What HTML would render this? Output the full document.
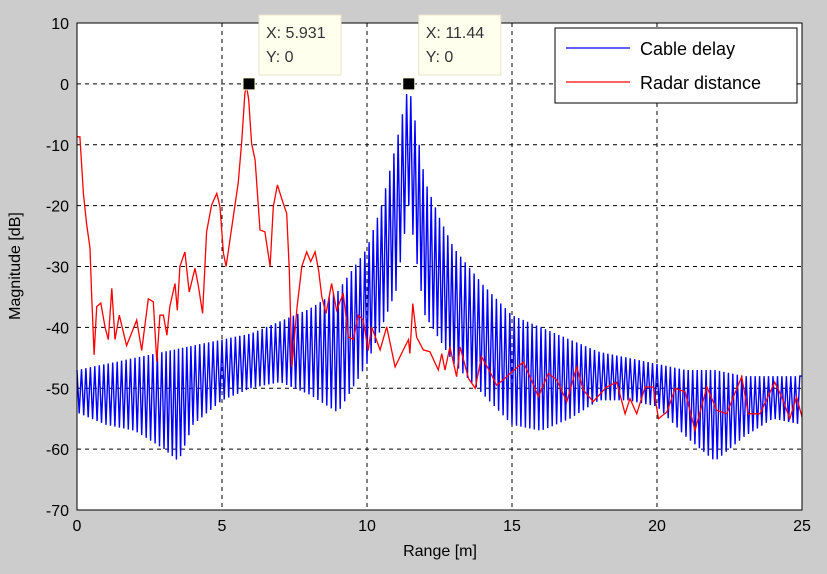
<!DOCTYPE html>
<html><head><meta charset="utf-8"><style>
body{margin:0;background:#cccccc;}
svg{display:block;font-family:"Liberation Sans",sans-serif;}
</style></head><body>
<svg id="chart" width="827" height="574">
<rect x="0" y="0" width="827" height="574" fill="#cccccc"/>
<rect x="77" y="23" width="725" height="487" fill="#ffffff"/>
<g id="grid"></g>
<g id="series"></g>
<rect x="77" y="23" width="725" height="487" fill="none" stroke="#000" stroke-width="1"/>
<g id="ticks"></g>
<text x="440" y="556" font-size="16" text-anchor="middle">Range [m]</text>
<text transform="translate(20,266) rotate(-90)" font-size="16" text-anchor="middle">Magnitude [dB]</text>
<g>
<rect x="555" y="28" width="242" height="75" fill="#fff" stroke="#000"/>
<line x1="566" y1="48" x2="630" y2="48" stroke="#0000ff" stroke-width="1.3"/>
<text x="640" y="55" font-size="18">Cable delay</text>
<line x1="566" y1="82" x2="630" y2="82" stroke="#ff0000" stroke-width="1.3"/>
<text x="640" y="89" font-size="18">Radar distance</text>
</g>
<g id="tips"></g>
</svg>
<script>
const xTicks=[0,5,10,15,20,25];
const yTicks=[10,0,-10,-20,-30,-40,-50,-60,-70];
const redX=[0,0.1,0.22,0.33,0.45,0.5,0.59,0.68,0.82,0.97,1.08,1.2,1.31,1.46,1.71,2.06,2.23,2.46,2.63,2.75,2.86,2.98,3.1,3.2,3.38,3.46,3.55,3.72,3.87,4.07,4.18,4.33,4.47,4.64,4.82,4.93,5.05,5.14,5.39,5.56,5.68,5.79,5.85,5.92,6.02,6.14,6.31,6.48,6.66,6.77,6.91,7.11,7.23,7.32,7.41,7.59,7.75,7.92,8.06,8.21,8.33,8.44,8.59,8.78,8.95,9.18,9.36,9.53,9.7,9.87,10.04,10.16,10.45,10.68,10.97,11.25,11.43,11.48,11.58,11.71,11.94,12.17,12.46,12.58,12.69,12.86,13.09,13.21,13.5,13.73,13.95,14.24,14.47,14.7,14.93,15.39,15.62,15.91,16.25,16.54,16.89,17.23,17.46,17.8,18.26,18.61,18.9,19.07,19.3,19.59,19.87,20.05,20.34,20.63,20.97,21.31,21.72,22.06,22.4,22.92,23.15,23.55,24.06,24.3,24.58,24.81,25];
const redY=[-8.7,-8.7,-18,-23,-27,-34,-44.5,-36.6,-36,-40,-42,-33.6,-42,-38,-43,-38.8,-43.8,-35.3,-35.8,-45.7,-38,-38,-41.3,-36.6,-32.8,-37.2,-30,-27.6,-34.2,-30.3,-33,-37.7,-24.3,-19.9,-18,-20.2,-27.8,-30,-21.8,-16.3,-9.5,-1.5,-0.4,-2.6,-9.8,-12.5,-24,-24.3,-30,-20.2,-16.6,-19.6,-21.3,-30.6,-46.5,-36.6,-30,-27.6,-29.2,-27.6,-30.6,-35,-37.7,-32.8,-37.2,-34.4,-41.6,-42,-38,-38.8,-43.8,-39.9,-43.7,-39.9,-46.5,-43.7,-42,-44.3,-36.1,-41.6,-43.7,-44,-47,-44.3,-47,-43.2,-48.1,-43.2,-48.4,-50,-44.8,-47.3,-49.5,-48.6,-47.6,-45.7,-48.1,-51.4,-47.6,-48.6,-52.2,-46.5,-50.3,-52.2,-49.8,-49,-54.2,-51.7,-54.2,-49.8,-49.8,-55,-53.9,-50,-50.6,-56.9,-49.8,-53.6,-54.2,-48.1,-54.2,-54.2,-49,-51.4,-55,-51.4,-54.7];
const blueX=[0,1,2,3,3.5,4,5,6,7,8,9,10,10.5,11,11.44,11.8,12,12.5,13,14,15,16,17,18,19,20,21,22,23,24,25];
const blueHi=[-47,-46,-45,-44,-43.5,-43,-42,-41,-39,-37,-34,-27,-20,-10,0,-10,-16,-22,-27,-33,-38,-40,-42,-44,-45,-46,-47,-47,-48,-48,-48];
const blueLo=[-54,-56,-57,-60,-62,-56,-52,-50,-49,-51,-54,-46,-40,-34,-20,-32,-38,-42,-46,-51,-56,-57,-55,-52,-52,-53,-58,-62,-58,-55,-56];
const tips=[{x:5.931,y:0,label:"5.931"},{x:11.44,y:0,label:"11.44"}];

const NS="http://www.w3.org/2000/svg";
const X0=77,X1=802,Y0=23,Y1=510,XMIN=0,XMAX=25,YMIN=-70,YMAX=10;
const sx=v=>X0+(v-XMIN)/(XMAX-XMIN)*(X1-X0);
const sy=v=>Y1-(v-YMIN)/(YMAX-YMIN)*(Y1-Y0);
function mk(tag,attrs,parent){const e=document.createElementNS(NS,tag);for(const k in attrs)e.setAttribute(k,attrs[k]);parent.appendChild(e);return e;}
const grid=document.getElementById('grid'),ticks=document.getElementById('ticks'),series=document.getElementById('series'),tipsG=document.getElementById('tips');
xTicks.forEach(t=>{
 const x=sx(t);
 if(t>XMIN&&t<XMAX){const g=mk('line',{x1:x,y1:Y0,x2:x,y2:Y1,stroke:'#000','stroke-dasharray':'4,4'},grid);
 
 }
 const l=mk('text',{x:x,y:531,'font-size':16,'text-anchor':'middle'},ticks);l.textContent=t;
 
 
});
yTicks.forEach(t=>{
 const y=sy(t);
 if(t>YMIN&&t<YMAX){const g=mk('line',{x1:X0,y1:y,x2:X1,y2:y,stroke:'#000','stroke-dasharray':'4,4'},grid);
 
 }
 const l=mk('text',{x:69,y:y+6,'font-size':16,'text-anchor':'end'},ticks);l.textContent=t;
 
 
});
let pts=[];let k=0;
for(let i=0;i<blueX.length-1;i++){
 const a=blueX[i],b=blueX[i+1];const n=Math.max(1,Math.round((b-a)/0.075));
 for(let j=0;j<n;j++){const f=j/n;const xv=a+(b-a)*f;
  const hi=blueHi[i]+(blueHi[i+1]-blueHi[i])*f,lo=blueLo[i]+(blueLo[i+1]-blueLo[i])*f;
  pts.push(sx(xv).toFixed(1)+','+sy(k%2?lo:hi).toFixed(1));k++;}
}
pts.push(sx(blueX[blueX.length-1]).toFixed(1)+','+sy(blueHi[blueHi.length-1]).toFixed(1));
const bl=mk('polyline',{points:pts.join(' '),fill:'none',stroke:'#0000ff','stroke-width':1.4},series);


const rl=mk('polyline',{points:redX.map((x,i)=>sx(x).toFixed(1)+','+sy(redY[i]).toFixed(1)).join(' '),fill:'none',stroke:'#ff0000','stroke-width':1.3},series);


tips.forEach(t=>{
 const x=sx(t.x),y=sy(t.y);
 const bx=mk('rect',{x:x+10,y:15,width:82,height:60,fill:'#ffffee',stroke:'#e8e4c8'},tipsG);
 
 
 const t1=mk('text',{x:x+17,y:38,'font-size':16,fill:'#333'},tipsG);t1.textContent='X: '+t.label;
 
 
 const t2=mk('text',{x:x+17,y:62,'font-size':16,fill:'#333'},tipsG);t2.textContent='Y: '+t.y;
 
 
 const m=mk('rect',{x:x-6,y:y-6,width:12,height:12,fill:'#000',stroke:'#ffffe0'},tipsG);
 
 
});
</script>
</body></html>
